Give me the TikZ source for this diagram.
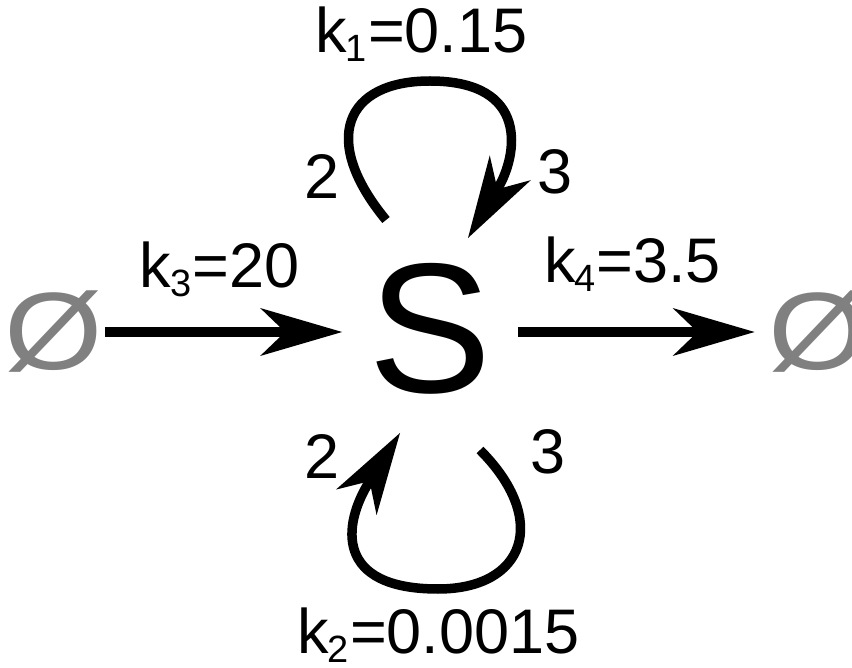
\documentclass[tikz,border=0pt]{standalone}
\usepackage{fontspec}
\setmainfont{Liberation Sans}
\usetikzlibrary{arrows.meta}
\definecolor{emptygray}{HTML}{808080}
\newcommand{\ksub}[1]{\kern-1pt\raisebox{-9pt}{\fontsize{38}{38}\selectfont #1}\kern1pt}
\begin{document}
\begin{tikzpicture}[x=1pt,y=-1pt,
  lbl/.style={inner sep=0pt, font=\fontsize{63}{63}\selectfont},
  emptyset/.style={inner sep=0pt, anchor=base, text=emptygray, font=\fontsize{110}{110}\selectfont},
  tipstyle/.style={-{Stealth[length=82pt,width=48pt,inset=25pt,line width=0pt]}},
  arr/.style={line width=9.5pt, tipstyle},
]
\useasboundingbox (0,0) rectangle (852,668);
% species
\node[inner sep=0pt, anchor=base, font=\fontsize{185}{185}\selectfont] (s) at (430,393) {S};
\node[emptyset] (lz) at (54,370) {\scalebox{1.15}[1]{Ø}};
\node[emptyset] (rz) at (818,370) {\scalebox{1.15}[1]{Ø}};
\coordinate (ay) at (0,332);
% straight reactions
\draw[arr, shorten <=2pt, shorten >=26pt] (lz.east |- ay) -- (s.west |- ay);
\draw[arr, shorten <=26pt, shorten >=14pt] (s.east |- ay) -- (rz.west |- ay);
% labels
\node[lbl, anchor=base] (k3) at (219.5,288) {k\ksub{3}=20};
\node[lbl, anchor=base] (k4) at (632.5,283) {k\ksub{4}=3.5};
\node[lbl, anchor=base] (k1) at (421.5,53) {k\ksub{1}=0.15};
\node[lbl, anchor=base] (k2) at (438.5,653) {k\ksub{2}=0.0015};
% top loop
\coordinate (t0) at (386,220);
\coordinate (t1) at (468,238);
\draw[arr] (t0) .. controls (320,140) and (345,81) .. (430,81)
               .. controls (530,81) and (518,155) .. (t1);
\node[lbl] (tl2) at (322,177) {2};
\node[lbl] (tl3) at (555,172) {3};
% bottom loop
\coordinate (b0) at (480,450);
\coordinate (b1) at (400,433);
\draw[arr] (b0) .. controls (550,520) and (525,589) .. (438,589)
               .. controls (335,589) and (342,525) .. (b1);
\node[lbl] (bl2) at (322,457) {2};
\node[lbl] (bl3) at (548,452) {3};
\end{tikzpicture}
\end{document}
